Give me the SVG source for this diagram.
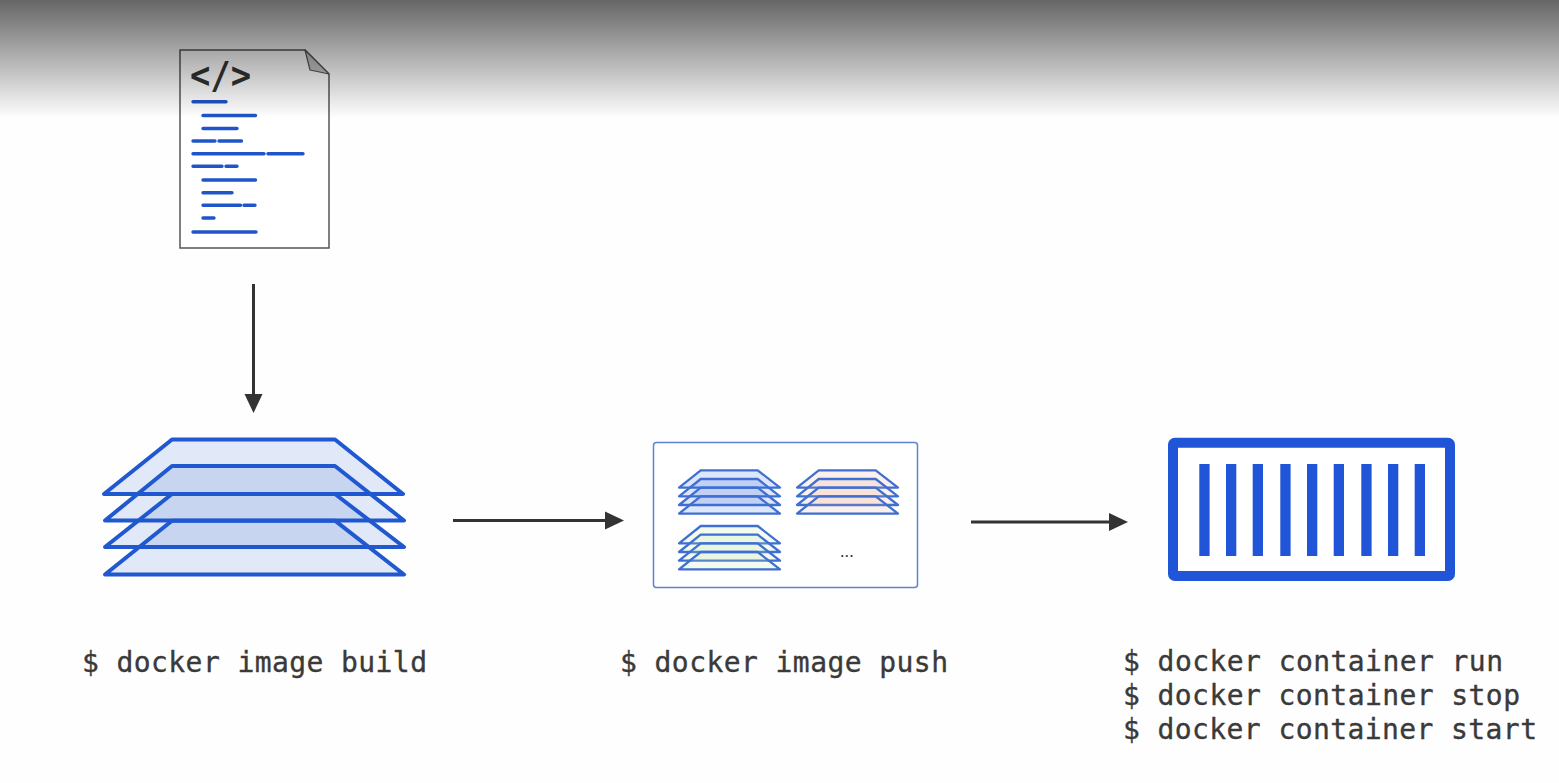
<svg xmlns="http://www.w3.org/2000/svg" width="1559" height="783" viewBox="0 0 1559 783">
<style>
.cmd{font-family:"DejaVu Sans Mono","Liberation Mono",monospace;font-size:28px;fill:#3a3a3a;stroke:#3a3a3a;stroke-width:.35}
.code{stroke:#1f55c8;stroke-width:3.4;stroke-linecap:round;fill:none}
.big{stroke:#2058d0;stroke-width:4;stroke-linejoin:round;fill:#1f55c8;fill-opacity:.13}
.sm{stroke:#3f6fd0;stroke-width:2.300;stroke-linejoin:round}
.a{fill:#2a64e0;fill-opacity:.16}
.b{fill:#e8a890;fill-opacity:.17}
.c{fill:#c4e4b0;fill-opacity:.2}
.bar{fill:#1f55d6}
.conn{stroke:#333;stroke-width:3;fill:none}
.head{fill:#333}
</style>
<defs>
<linearGradient id="shade" x1="0" y1="0" x2="0" y2="1">
<stop offset="0" stop-color="#000" stop-opacity=".6"/>
<stop offset="1" stop-color="#000" stop-opacity="0"/>
</linearGradient>
<polygon id="smLayer" points="21.7,0 78.7,0 101,17.3 0,17.3"/>
<g id="smStack">
<use href="#smLayer" y="0"/>
<use href="#smLayer" y="8.7"/>
<use href="#smLayer" y="17.4"/>
<use href="#smLayer" y="26"/>
</g>
</defs>
<rect width="1559" height="783" fill="#fefefe"/>
<g id="dockerfile">
<path d="M180,50H305L329,74V248H180Z" fill="#fff" stroke="#555" stroke-width="1.5"/>
<path d="M305,50L310,70L329,74Z" fill="#c4c4c4" stroke="#555" stroke-width="1.2" stroke-linejoin="round"/>
<text x="190" y="88" font-family="DejaVu Sans Mono,monospace" font-weight="700" font-size="37" textLength="61" lengthAdjust="spacingAndGlyphs" fill="#333">&lt;/&gt;</text>
<path class="code" d="M193,101.7H226M203,115.5H255.500M203,128.500H237M193,141H215M219,141H241.500M193,153.700H264M268,153.700H303M193,166.300H222M226,166.300H237M203,180H255.500M203,192.700H232M203,205.300H240.500M244,205.300H255M203,218H214M193,232H256"/>
</g>
<g id="image-build">
<polygon class="big" points="172,439.5 335,439.5 403,494 104,494"/>
<polygon class="big" points="172,466 335,466 404,520.5 105,520.5"/>
<polygon class="big" points="172,494 335,494 404,547 105,547"/>
<polygon class="big" points="172,520.7 335,520.7 404,574.5 105,574.5"/>
<text class="cmd" x="82" y="672" textLength="345">$ docker image build</text>
</g>
<g id="image-push">
<rect x="653.500" y="442.500" width="264" height="145" rx="3" fill="#fff" stroke="#5f84cf" stroke-width="1.5"/>
<use href="#smStack" class="sm a" x="679" y="470.300"/>
<use href="#smStack" class="sm b" x="797" y="470.300"/>
<use href="#smStack" class="sm c" x="679" y="526"/>
<text x="847" y="557" text-anchor="middle" font-family="Roboto,sans-serif" font-size="18" fill="#333">...</text>
<text class="cmd" x="620" y="672" textLength="328">$ docker image push</text>
</g>
<g id="container">
<rect x="1173" y="442.700" width="277" height="133.300" rx="2" fill="#fff" stroke="#1f55d6" stroke-width="10"/>
<rect class="bar" x="1199.300" y="464" width="10.300" height="92"/>
<rect class="bar" x="1226" y="464" width="10.300" height="92"/>
<rect class="bar" x="1252.700" y="464" width="10.300" height="92"/>
<rect class="bar" x="1280.300" y="464" width="10.300" height="92"/>
<rect class="bar" x="1307" y="464" width="10.300" height="92"/>
<rect class="bar" x="1333.700" y="464" width="10.300" height="92"/>
<rect class="bar" x="1361.300" y="464" width="10.300" height="92"/>
<rect class="bar" x="1388" y="464" width="10.300" height="92"/>
<rect class="bar" x="1414.700" y="464" width="10.300" height="92"/>
<text class="cmd" x="1123" y="671" textLength="380">$ docker container run</text>
<text class="cmd" x="1123" y="705" textLength="397">$ docker container stop</text>
<text class="cmd" x="1123" y="739" textLength="414">$ docker container start</text>
</g>
<g id="connectors">
<path class="conn" d="M253.500,284V396"/>
<path class="head" d="M244.500,394H262.500L253.500,413Z"/>
<path class="conn" d="M453,520.500H606"/>
<path class="head" d="M605,511.500L624,520.500L605,529.500Z"/>
<path class="conn" d="M971,522H1110"/>
<path class="head" d="M1109,513L1128,522L1109,531Z"/>
</g>
<rect id="top-shade" width="1559" height="118" fill="url(#shade)"/>
</svg>
